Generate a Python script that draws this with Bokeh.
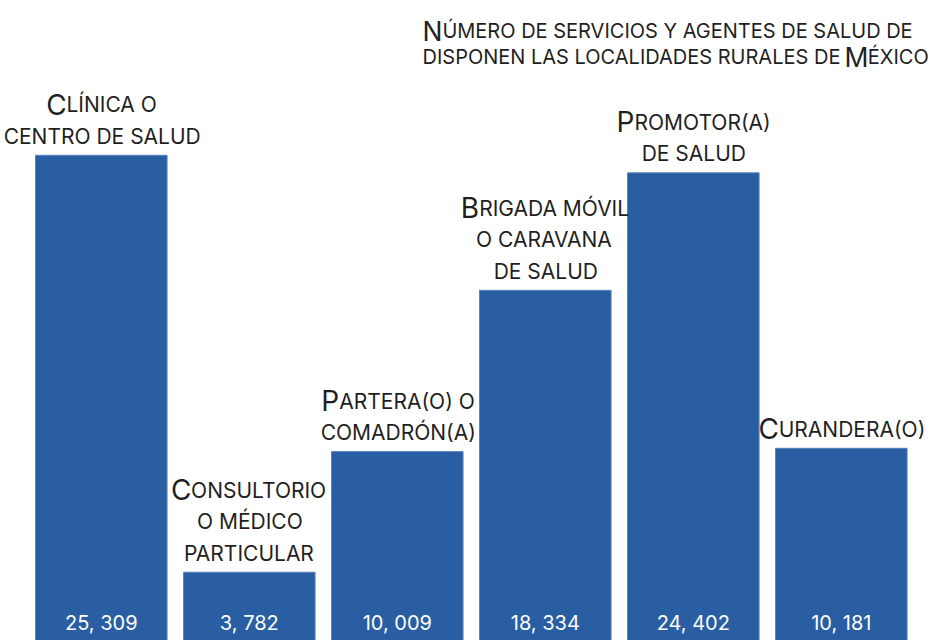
import unicodedata
from bokeh.plotting import figure
from bokeh.models import ColumnDataSource, Range1d, Label
from bokeh.embed import file_html
from bokeh.resources import INLINE
from bokeh.core.properties import value

# ---------------- data ----------------
categories = [
    "Clínica o\ncentro de salud",
    "Consultorio\no médico\nparticular",
    "Partera(o) o\ncomadrón(a)",
    "Brigada móvil\no caravana\nde salud",
    "Promotor(a)\nde salud",
    "Curandera(o)",
]
counts = [25309, 3782, 10009, 18334, 24402, 10181]
title_lines = [
    "Número de servicios y agentes de salud de",
    "disponen las localidades rurales de México",
]

# ---------------- style ----------------
FONT = "Inter"
BAR_COLOR = "#295ea3"
EDGE_COLOR = "#5a82bd"
TEXT_COLOR = "#1f1f1f"
SMALL, BIG = 21, 28          # small-caps sizes for category labels
T_SMALL, T_BIG = 20, 26.5    # small-caps sizes for title
GAP, LINE = 19, 31.5         # label gap above bar, line spacing (px)
NUM_SIZE = 20
WIDTH, HEIGHT = 933, 640

# approximate advance widths (em) used to lay out small caps runs
W = dict(A=.69, B=.66, C=.72, D=.72, E=.60, F=.58, G=.74, H=.75, I=.27, J=.55,
         K=.67, L=.55, M=.88, N=.75, O=.76, P=.64, Q=.76, R=.65, S=.64, T=.63,
         U=.73, V=.69, W=.98, X=.67, Y=.66, Z=.64)
W.update({" ": .27, "(": .34, ")": .34, ",": .27})


def base(ch):
    return unicodedata.normalize("NFD", ch)[0]


def text_width(t, size):
    return sum(W.get(base(c), .62) for c in t) * size


def sc_runs(line, big, small):
    runs = []
    for ch in line:
        size = big if ch.isupper() else small
        t = ch.upper()
        if runs and runs[-1][1] == size:
            runs[-1][0] += t
        else:
            runs.append([t, size])
    return runs


idx = list(range(len(categories)))

p = figure(width=WIDTH, height=HEIGHT, output_backend="svg", toolbar_location=None,
           x_range=Range1d(-0.681, 5.623), y_range=Range1d(258, 33299),
           x_axis_location=None, y_axis_location=None, min_border=0)
p.grid.visible = False
p.outline_line_color = None
p.background_fill_color = "white"
p.border_fill_color = "white"

bars = ColumnDataSource(dict(x=idx, top=counts))
p.vbar(x="x", top="top", bottom=0, width=0.889, source=bars,
       fill_color=BAR_COLOR, line_color=EDGE_COLOR, line_width=1)

# value labels inside bars
nums = ColumnDataSource(dict(x=idx, y=[1187] * len(counts),
                             t=[f"{v:,}".replace(",", ", ") for v in counts]))
p.text(x="x", y="y", text="t", source=nums, text_align="center",
       text_baseline="alphabetic", text_color="white",
       text_font=value(FONT), text_font_size=f"{NUM_SIZE}px")

# category labels (small caps)
rows = dict(x=[], y=[], xo=[], yo=[], text=[], size=[])
for i, cat in enumerate(categories):
    lines = cat.split("\n")
    n = len(lines)
    for j, line in enumerate(lines):
        runs = sc_runs(line, BIG, SMALL)
        total = sum(text_width(t, s) for t, s in runs)
        x0 = -total / 2
        for t, s in runs:
            rows["x"].append(i)
            rows["y"].append(counts[i])
            rows["xo"].append(x0)
            rows["yo"].append(-(GAP + (n - 1 - j) * LINE))
            rows["text"].append(t)
            rows["size"].append(f"{s}px")
            x0 += text_width(t, s)
lab = ColumnDataSource(rows)
p.text(x="x", y="y", text="text", x_offset="xo", y_offset="yo",
       text_font_size="size", source=lab, text_font=value(FONT),
       text_align="left", text_baseline="alphabetic", text_color=TEXT_COLOR)

# title (small caps), left aligned, screen units (y measured from bottom)
TX = 422
TY = [HEIGHT - 30, HEIGHT - 56.7]
for line, ty in zip(title_lines, TY):
    x = TX
    for t, s in sc_runs(line, T_BIG, T_SMALL):
        p.add_layout(Label(x=x, y=ty, x_units="screen", y_units="screen", text=t,
                           text_font=FONT, text_font_size=f"{s}px",
                           text_color=TEXT_COLOR, text_align="left",
                           text_baseline="alphabetic"))
        x += text_width(t, s)

open("out.html", "w").write(file_html(p, INLINE))
